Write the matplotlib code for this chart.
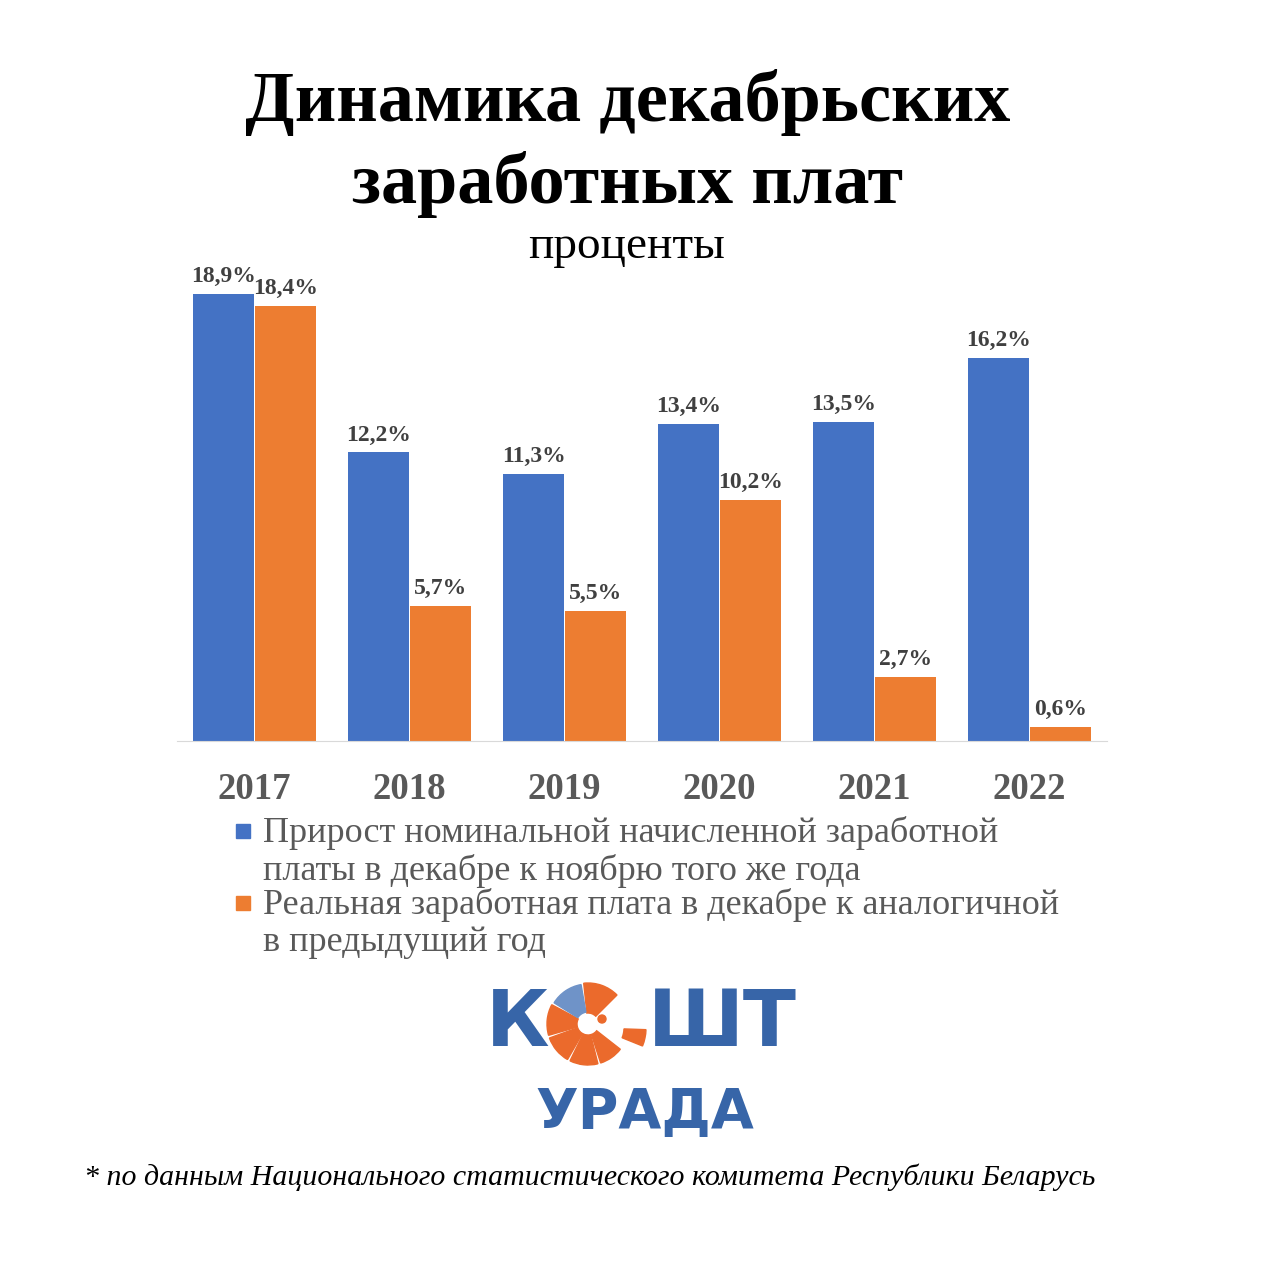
import matplotlib
matplotlib.use("Agg")
import matplotlib.pyplot as plt
from matplotlib.patches import Wedge, Rectangle, Circle
import numpy as np

# data
years = ["2017", "2018", "2019", "2020", "2021", "2022"]
nominal = [18.9, 12.2, 11.3, 13.4, 13.5, 16.2]
real = [18.4, 5.7, 5.5, 10.2, 2.7, 0.6]
series_names = ["Прирост номинальной начисленной заработной\nплаты в декабре к ноябрю того же года",
                "Реальная заработная плата в декабре к аналогичной\nв предыдущий год"]

blue = "#4472C4"
orange = "#ED7D31"
serif = ["Liberation Serif", "DejaVu Serif"]

W, H = 1279, 1280
fig = plt.figure(figsize=(W / 100, H / 100), dpi=100)
fig.patch.set_facecolor("white")

# title
fig.text(628 / W, 1 - 102 / H, "Динамика декабрьских", ha="center", va="center",
         fontsize=52, fontweight="bold", family=serif, color="black")
fig.text(628 / W, 1 - 185 / H, "заработных плат", ha="center", va="center",
         fontsize=52, fontweight="bold", family=serif, color="black")
fig.text(627 / W, 1 - 247 / H, "проценты", ha="center", va="center",
         fontsize=34, family=serif, color="black")

# axes
left, right, base, top = 177, 1107, 741, 250
ax = fig.add_axes([left / W, 1 - base / H, (right - left) / W, (base - top) / H])
x = np.arange(len(years))
w = 0.395
b1 = ax.bar(x - 0.2, nominal, w, color=blue, zorder=2)
b2 = ax.bar(x + 0.2, real, w, color=orange, zorder=2)
fmt = lambda v: f"{v:.1f}%".replace(".", ",")
ax.bar_label(b1, labels=[fmt(v) for v in nominal], padding=5, fontsize=17,
             fontweight="bold", family=serif, color="#404040")
ax.bar_label(b2, labels=[fmt(v) for v in real], padding=5, fontsize=17,
             fontweight="bold", family=serif, color="#404040")
ax.set_xlim(-0.5, len(years) - 0.5)
ax.set_ylim(0, (base - top) / 23.65)
ax.set_yticks([])
ax.set_xticks(x)
ax.set_xticklabels(years, fontsize=26.5, fontweight="bold", family=serif, color="#595959")
ax.tick_params(axis="x", length=0, pad=22)
for s in ["top", "right", "left"]:
    ax.spines[s].set_visible(False)
ax.spines["bottom"].set_color("#D9D9D9")
ax.set_facecolor("none")

# legend (drawn by hand so the square sits on the first line)
for name, col, y0 in zip(series_names, [blue, orange], [831, 903]):
    fig.patches.append(Rectangle((236 / W, 1 - (y0 + 7) / H), 14 / W, 14 / H,
                                 transform=fig.transFigure, color=col))
    fig.text(263 / W, 1 - (y0 - 15) / H, name, ha="left", va="top",
             fontsize=26, family=serif, color="#595959", linespacing=1.16)

# logo
logo_blue = "#3765A8"
logo_orange = "#EB6A2C"
fig.text(518 / W, 1 - 1024 / H, "К", ha="center", va="center", fontsize=56,
         fontweight="bold", family="DejaVu Sans", color=logo_blue)
fig.text(722 / W, 1 - 1024 / H, "ШТ", ha="center", va="center", fontsize=56,
         fontweight="bold", family="DejaVu Sans", color=logo_blue)
fig.text(645 / W, 1 - 1113 / H, "УРАДА", ha="center", va="center", fontsize=40,
         fontweight="bold", family="DejaVu Sans", color=logo_blue)
lax = fig.add_axes([0, 0, 1, 1], zorder=-1)
lax.set_xlim(0, W)
lax.set_ylim(0, H)
lax.axis("off")
cx, cy = 588, H - 1024
for a0, a1 in [(45, 96), (152, 196), (200, 240), (244, 284), (288, 322)]:
    lax.add_patch(Wedge((cx, cy), 41, a0, a1, width=30, color=logo_orange))
lax.add_patch(Wedge((cx, cy), 40, 100, 148, width=28, color="#6F93C8"))
lax.add_patch(Wedge((cx + 10, cy - 4), 48, -22, -2, width=22, color=logo_orange))
lax.add_patch(Circle((cx + 14, cy + 5), 4, color=logo_orange))

# footnote
fig.text(590 / W, 1 - 1177 / H,
         "* по данным Национального статистического комитета Республики Беларусь",
         ha="center", va="center", fontsize=21.5, style="italic", family=serif,
         color="black")

fig.savefig("out.png", dpi=100, facecolor="white")
